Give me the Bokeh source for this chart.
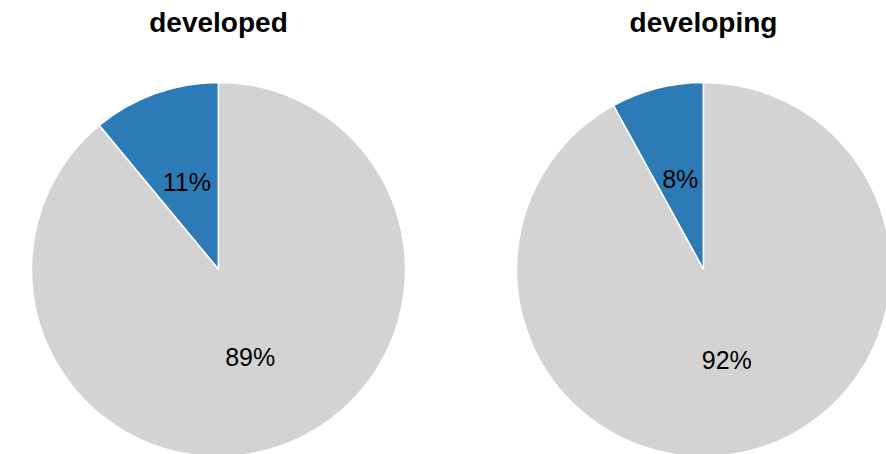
import math
from bokeh.plotting import figure
from bokeh.models import Range1d, ColumnDataSource
from bokeh.core.properties import value
from bokeh.embed import file_html
from bokeh.resources import INLINE

# ---- data ----
groups = ["developed", "developing"]
categories = ["yes", "no"]
values_developed = [11, 89]
values_developing = [8, 92]
slice_colors = ["#2C7BB6", "#D3D3D3"]

# ---- layout (page pixels) ----
OX, OY = 0, 0            # page offset of the figure
W, H = 886, 454
centers_x = [218, 703]   # page x of pie centres
center_y_page = 269
R = 187

p = figure(width=W, height=H, output_backend="svg", toolbar_location=None,
           x_range=Range1d(OX, OX + W), y_range=Range1d(0, H),
           min_border=0, outline_line_color=None)
p.axis.visible = False
p.grid.visible = False
p.background_fill_color = "white"
p.border_fill_color = "white"

def py(y_page):
    return (OY + H) - y_page

all_vals = [values_developed, values_developing]
for gi, (g, vals) in enumerate(zip(groups, all_vals)):
    cx = centers_x[gi]
    cy = py(center_y_page)
    total = float(sum(vals))
    starts, ends, mids = [], [], []
    a = math.pi / 2
    for v in vals:
        span = 2 * math.pi * v / total
        starts.append(a)
        ends.append(a + span)
        mids.append(a + span / 2)
        a += span
    src = ColumnDataSource(dict(x=[cx] * len(vals), y=[cy] * len(vals),
                                start=starts, end=ends, color=slice_colors,
                                cat=categories))
    p.wedge(x="x", y="y", radius=R, start_angle="start", end_angle="end",
            direction="anticlock", fill_color="color", line_color="white",
            line_width=1.5, source=src)
    lx = [cx + 0.5 * R * math.cos(m) for m in mids]
    ly = [cy + 0.5 * R * math.sin(m) for m in mids]
    labels = [f"{v}%" for v in vals]
    p.text(x=lx, y=ly, text=labels, text_align="center", text_baseline="middle",
           text_font=value("Liberation Sans"), text_font_size="25px",
           text_color="black")
    p.text(x=[cx], y=[py(21.5)], text=[g], text_align="center",
           text_baseline="alphabetic", text_font=value("Liberation Sans"),
           text_font_size="28px", text_font_style="bold", text_color="black")

open("out.html", "w").write(file_html(p, INLINE))
